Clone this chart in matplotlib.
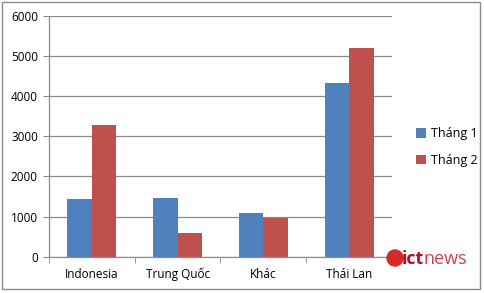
import matplotlib
matplotlib.use("Agg")
import matplotlib.pyplot as plt
from matplotlib.patches import Rectangle, Ellipse
import numpy as np

plt.rcParams['font.family'] = ['Open Sans', 'DejaVu Sans']

categories = ['Indonesia', 'Trung Quốc', 'Khác', 'Thái Lan']
thang1 = [1440, 1460, 1080, 4340]
thang2 = [3290, 590, 960, 5190]
series_names = ['Tháng 1', 'Tháng 2']

blue = '#4F81BD'
red = '#C0504D'
grid_col = '#8C8C8C'

fig = plt.figure(figsize=(4.85, 2.93), dpi=100)
ax = fig.add_axes([49 / 485, 36.3 / 293, 343 / 485, 240.7 / 293])

x = np.arange(len(categories))
w = 1 / 3.5
ax.bar(x - w / 2, thang1, width=w, color=blue, label=series_names[0])
ax.bar(x + w / 2, thang2, width=w, color=red, label=series_names[1])

ax.set_xlim(-0.5, len(categories) - 0.5)
ax.set_ylim(0, 6000)
ax.set_yticks(range(0, 6001, 1000))
ax.yaxis.grid(True, color=grid_col, linewidth=0.9)
ax.set_axisbelow(True)

ax.set_xticks(x)
ax.set_xticklabels(categories)
ax.set_xticks(np.arange(-0.5, len(categories) + 0.5, 1), minor=True)
ax.tick_params(axis='x', which='major', length=0, pad=8, labelsize=8.5)
ax.tick_params(axis='x', which='minor', length=4, color=grid_col, direction='out')
ax.tick_params(axis='y', length=4, color=grid_col, labelsize=8.5, pad=4)

for s in ['top', 'right']:
    ax.spines[s].set_visible(False)
for s in ['left', 'bottom']:
    ax.spines[s].set_color(grid_col)
    ax.spines[s].set_linewidth(0.9)

fig.legend(loc='center left', bbox_to_anchor=(405 / 485, 1 - 147 / 293),
           frameon=False, fontsize=9, handlelength=0.8, handleheight=0.8,
           handletextpad=0.4, labelspacing=1.1)

# chart area border
fig.patches.append(Rectangle((2 / 485, 4 / 293), 478 / 485, 287 / 293,
                             transform=fig.transFigure, fill=False,
                             edgecolor='#8A8A8A', linewidth=1.0))

# ictnews logo
fig.patches.append(Ellipse((395 / 485, 1 - 258 / 293), 16 / 485, 16 / 293,
                           transform=fig.transFigure, color='#D42A2A'))
fig.text(402 / 485, 1 - 259 / 293, 'ict', fontsize=13, fontweight='bold',
         color='#B0102A', va='center', ha='left')
fig.text(423.5 / 485, 1 - 259 / 293, 'news', fontsize=13,
         color='#D0404A', va='center', ha='left')

fig.savefig('out.png', dpi=100)
